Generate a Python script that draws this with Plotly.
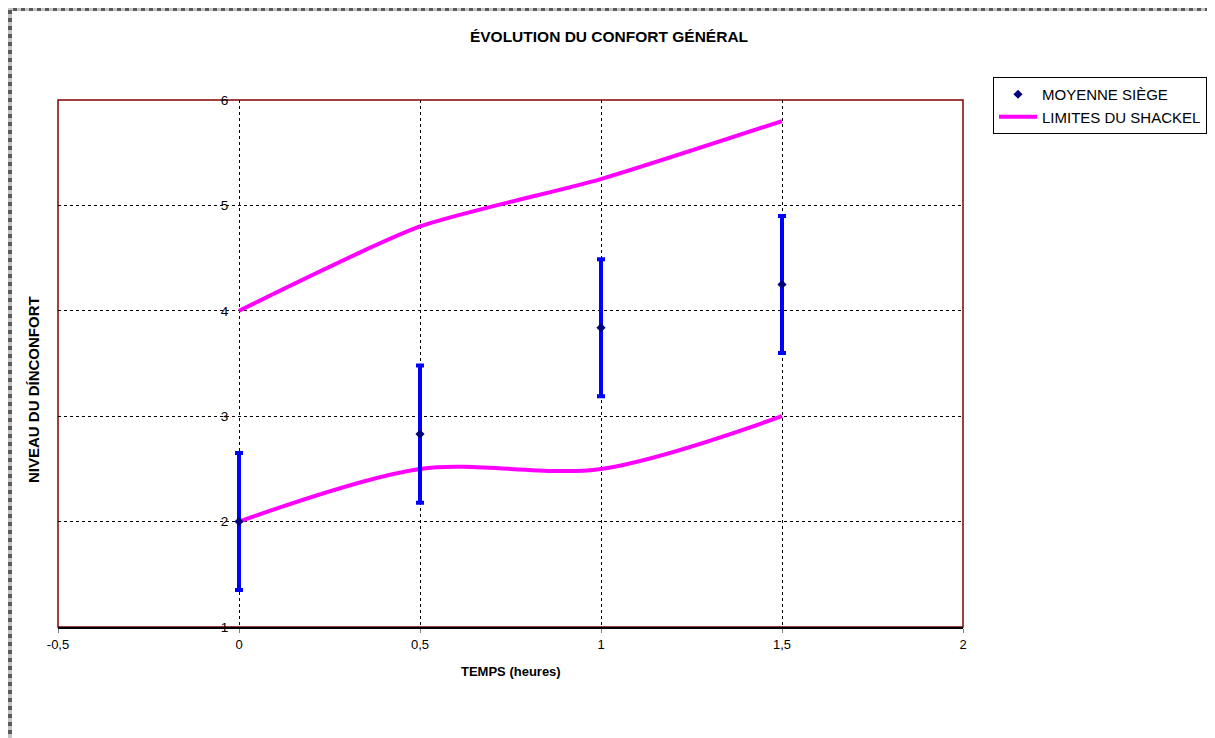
import plotly.graph_objects as go

# Data
temps = [0, 0.5, 1, 1.5]
moyenne = [2.0, 2.83, 3.84, 4.25]
erreur = [0.65, 0.65, 0.65, 0.65]
limite_haute = [4.0, 4.8, 5.25, 5.8]
limite_basse = [2.0, 2.5, 2.5, 3.0]

x_ticks = [-0.5, 0, 0.5, 1, 1.5, 2]
x_tick_labels = ["-0,5", "0", "0,5", "1", "1,5", "2"]
y_ticks = [1, 2, 3, 4, 5, 6]

FONT = "Liberation Sans, Arial, sans-serif"
W, H = 1215, 738
OFF = 8  # page body offset
L, R, T, B = 58 - OFF, 963 - OFF, 100 - OFF, 627 - OFF
PW, PH = R - L, B - T


def px_x(p):
    return (p - OFF - L) / PW


def px_y(p):
    return (B - (p - OFF)) / PH


fig = go.Figure()

fig.add_trace(go.Scatter(
    x=temps, y=limite_haute, mode="lines", name="LIMITES DU SHACKEL",
    line=dict(color="#FF00FF", width=4, shape="spline", smoothing=0.6),
    legendgroup="shackel", showlegend=True))
fig.add_trace(go.Scatter(
    x=temps, y=limite_basse, mode="lines", name="LIMITES DU SHACKEL",
    line=dict(color="#FF00FF", width=4, shape="spline", smoothing=0.9),
    legendgroup="shackel", showlegend=False))
fig.add_trace(go.Scatter(
    x=temps, y=moyenne, mode="markers", name="MOYENNE SIÈGE",
    marker=dict(symbol="diamond", size=7, color="#000080"),
    error_y=dict(type="data", array=erreur, visible=True,
                 color="#0000FF", thickness=4, width=4)))

fig.update_layout(
    width=W, height=H,
    paper_bgcolor="white", plot_bgcolor="white",
    margin=dict(l=L, r=W - R, t=T, b=H - B),
    font=dict(family=FONT, size=13, color="black"),
    title=dict(text="<b>ÉVOLUTION DU CONFORT GÉNÉRAL</b>",
               x=(609 - OFF) / W, xanchor="center", y=1 - (37 - OFF) / H, yanchor="middle",
               font=dict(size=15.5, family=FONT, color="black")),
    showlegend=True,
    legend=dict(x=px_x(993), xanchor="left",
                y=px_y(77), yanchor="top",
                bordercolor="black", borderwidth=1, bgcolor="white",
                font=dict(size=15, family=FONT, color="black"),
                traceorder="reversed", itemwidth=38,
                tracegroupgap=0),
    xaxis=dict(range=[-0.5, 2], tickvals=x_ticks, ticktext=x_tick_labels,
               showgrid=True, gridcolor="black", griddash="dot", gridwidth=1,
               showline=True, linecolor="black", linewidth=2,
               ticks="outside", ticklen=4, tickcolor="#808080",
               zeroline=False, tickfont=dict(size=13)),
    yaxis=dict(range=[1, 6], tickvals=y_ticks,
               showgrid=True, gridcolor="black", griddash="dot", gridwidth=1,
               showline=False, zeroline=False, ticks="",
               anchor="free", position=(238 - OFF) / W,
               ticklabelstandoff=1,
               tickfont=dict(size=13.5)),
)

# plot-area border (dark red)
fig.add_shape(type="rect", xref="x domain", yref="y domain", x0=0, x1=1, y0=0, y1=1,
              line=dict(color="#800000", width=1.5), layer="below")
# outer chart border (grey hatched)
fig.add_shape(type="rect", xref="paper", yref="paper",
              x0=px_x(10), x1=px_x(1213),
              y0=px_y(770), y1=px_y(9),
              line=dict(color="#c4c4c4", width=4))
fig.add_shape(type="rect", xref="paper", yref="paper",
              x0=px_x(10), x1=px_x(1213),
              y0=px_y(770), y1=px_y(9),
              line=dict(color="#5a5a5a", width=4, dash="dot"))

# x-axis title
fig.add_annotation(text="<b>TEMPS (heures)</b>", xref="paper", yref="paper",
                   x=px_x(511), y=px_y(671), showarrow=False,
                   font=dict(size=13, family=FONT, color="black"),
                   xanchor="center", yanchor="middle")
# y-axis title
fig.add_annotation(text="<b>NIVEAU DU DÍNCONFORT</b>", xref="paper", yref="paper",
                   x=px_x(33), y=px_y(390), showarrow=False,
                   textangle=-90, font=dict(size=15, family=FONT, color="black"),
                   xanchor="center", yanchor="middle")

fig.write_html("out.html")
